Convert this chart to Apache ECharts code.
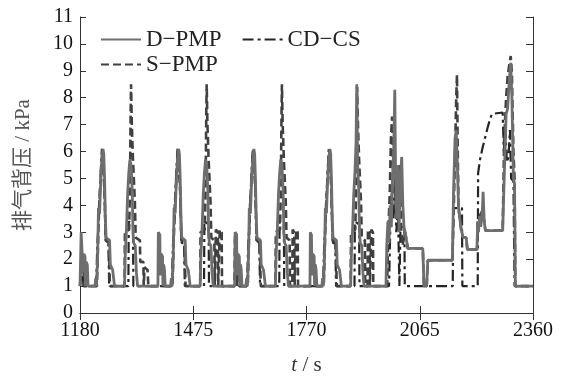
<!DOCTYPE html>
<html>
<head>
<meta charset="utf-8">
<script src="https://cdn.jsdelivr.net/npm/echarts@6/dist/echarts.min.js"></script>
<style>html,body{margin:0;padding:0;background:#fff}#c{width:562px;height:381px}</style>
</head>
<body>
<div id="c"></div>
<script>
const seriesNames = ['D−PMP', 'CD−CS', 'S−PMP'];
const xTicks = {min: 1180, max: 2360, step: 295};
const yTicks = {min: 0, max: 11, step: 1};

const dPMP = [
[1180,1.0],[1182,1.0],[1183,3.0],[1187,3.0],[1188,1.5],[1190,2.2],[1193,2.1],[1194,1.0],[1196,1.9],[1199,1.8],[1201,1.0],
[1219,1.0],[1221,1.3],[1223,1.0],[1226,2.1],[1228,3.9],[1231,3.7],[1234,4.9],[1237,5.7],[1240,6.1],[1242,5.9],[1244,5.0],[1246,3.6],[1248,2.8],[1257,2.7],[1259,1.8],[1265,1.6],[1270,1.0],
[1296,1.0],[1298,2.2],[1301,3.1],[1304,4.4],[1307,5.2],[1310,5.7],[1313,5.5],[1316,4.6],[1318,3.0],[1320,2.6],[1324,2.5],[1327,1.5],[1330,1.0],
[1383,1.0],[1384,3.0],[1388,2.9],[1389,1.4],[1391,2.2],[1395,2.1],[1396,1.0],[1398,1.8],[1400,1.6],[1402,1.0],
[1416,1.0],[1418,1.3],[1420,1.0],[1423,2.1],[1425,3.9],[1428,3.7],[1431,4.9],[1434,5.7],[1437,6.1],[1439,5.9],[1441,5.0],[1443,3.6],[1445,2.8],[1454,2.7],[1456,1.8],[1462,1.6],[1467,1.0],
[1493,1.0],[1495,2.2],[1498,3.1],[1501,4.4],[1504,5.2],[1507,5.7],[1510,5.5],[1513,4.6],[1515,3.0],[1517,2.6],[1521,2.5],[1524,1.5],[1527,1.0],
[1583,1.0],[1584,3.0],[1588,2.9],[1589,1.4],[1591,2.2],[1595,2.1],[1596,1.0],[1598,1.8],[1600,1.6],[1602,1.0],
[1612,1.0],[1614,1.3],[1616,1.0],[1619,2.1],[1621,3.9],[1624,3.7],[1627,4.9],[1630,5.7],[1633,6.1],[1635,5.9],[1637,5.0],[1639,3.6],[1641,2.8],[1650,2.7],[1652,1.8],[1658,1.6],[1663,1.0],
[1689,1.0],[1691,2.2],[1694,3.1],[1697,4.4],[1700,5.2],[1703,5.7],[1706,5.5],[1709,4.6],[1711,3.0],[1713,2.6],[1717,2.5],[1720,1.5],[1723,1.0],
[1779,1.0],[1780,3.0],[1783,2.9],[1784,1.4],[1786,2.2],[1790,2.1],[1791,1.0],[1793,1.8],[1795,1.6],[1797,1.0],
[1810,1.0],[1812,1.3],[1814,1.0],[1817,2.1],[1819,3.9],[1822,3.7],[1825,4.9],[1828,5.7],[1831,6.1],[1833,5.9],[1835,5.0],[1837,3.6],[1839,2.8],[1848,2.7],[1850,1.8],[1856,1.6],[1861,1.0],
[1885,1.0],[1887,2.2],[1890,3.1],[1893,4.4],[1896,5.2],[1899,6.3],[1901,8.5],[1903,5.6],[1906,4.6],[1908,3.0],[1910,2.6],[1914,2.5],[1917,1.5],[1920,1.0],
[1977,1.0],[1979,2.5],[1982,3.4],[1985,2.6],[1988,4.0],[1991,3.2],[1994,5.0],[1997,6.0],[2000,8.3],[2002,5.2],[2005,3.5],[2008,5.5],[2011,3.0],[2014,4.8],[2018,5.8],[2021,4.0],[2024,3.2],[2027,3.0],[2032,3.0],[2034,2.4],[2073,2.4],[2076,1.0],[2083,1.0],[2086,1.96],[2150,1.96],
[2153,4.5],[2157,6.5],[2160,6.8],[2163,5.5],[2166,3.9],[2170,3.9],[2173,3.1],[2178,2.8],[2186,2.8],[2189,2.36],[2214,2.36],[2216,3.4],[2218,3.0],[2221,3.6],[2224,3.2],[2228,3.8],[2230,4.5],[2233,3.4],[2236,3.06],[2281,3.06],[2285,5.0],[2290,7.4],[2294,7.6],[2298,8.6],[2302,9.3],[2305,8.0],[2309,5.0],[2312,4.8],[2314,1.0],[2360,1.0]
];

const sPMP = [
[1180,1.0],[1184,1.0],[1185,2.2],[1189,2.0],[1190,1.0],
[1224,1.0],[1227,2.6],[1230,4.0],[1234,5.0],[1238,6.0],[1241,6.0],[1244,4.5],[1247,2.7],[1255,2.6],[1258,1.0],
[1296,1.0],[1297,3.0],[1308,3.1],[1310,4.5],[1312,7.5],[1313,8.5],[1315,7.0],[1318,5.7],[1323,4.1],[1325,2.8],[1336,2.7],[1337,1.9],[1345,1.9],[1346,1.0],[1348,1.7],[1356,1.6],[1358,1.0],
[1421,1.0],[1424,2.6],[1427,4.0],[1431,5.0],[1435,6.0],[1438,6.0],[1441,4.5],[1444,2.7],[1452,2.6],[1455,1.0],
[1493,1.0],[1494,3.0],[1505,3.1],[1507,4.5],[1509,7.5],[1510,8.5],[1512,7.0],[1515,5.7],[1520,4.1],[1522,2.8],[1530,2.7],[1531,1.0],[1533,1.0],[1534,3.1],[1539,3.0],[1540,1.0],[1543,1.0],[1544,3.1],[1549,3.0],[1550,1.0],
[1582,1.0],[1584,3.0],[1588,2.9],[1589,1.0],[1591,2.0],[1594,1.9],[1595,1.0],
[1617,1.0],[1620,2.6],[1623,4.0],[1627,5.0],[1631,6.0],[1634,6.0],[1637,4.5],[1640,2.7],[1648,2.6],[1651,1.0],
[1689,1.0],[1690,3.0],[1701,3.1],[1703,4.5],[1705,7.5],[1706,8.5],[1708,7.0],[1711,5.7],[1716,4.1],[1718,2.8],[1726,2.7],[1727,1.0],[1733,1.0],[1734,3.1],[1738,3.0],[1739,1.0],[1742,1.0],[1743,3.1],[1747,3.0],[1748,1.0],
[1815,1.0],[1818,2.6],[1821,4.0],[1825,5.0],[1829,6.0],[1832,6.0],[1835,4.5],[1838,2.7],[1846,2.6],[1849,1.0],
[1885,1.0],[1886,3.0],[1897,3.1],[1899,4.5],[1901,7.5],[1902,8.4],[1904,7.0],[1907,5.7],[1912,4.1],[1914,2.8],[1922,2.7],[1923,1.0],[1929,1.0],[1930,3.1],[1934,3.0],[1935,1.0],[1938,1.0],[1939,3.1],[1943,3.0],[1944,1.0],
[1980,1.0],[1983,3.0],[1987,4.5],[1990,6.5],[1993,7.3],[1996,5.0],[1999,6.0],[2003,3.5],[2006,5.2],[2010,4.0],[2013,5.5],[2017,3.0],[2020,2.5],[2027,3.0],[2032,3.0],[2034,2.4],[2073,2.4],[2076,1.0],[2083,1.0],[2086,1.96],[2150,1.96],
[2153,3.5],[2157,6.0],[2160,8.0],[2162,8.85],[2164,6.0],[2166,3.9],[2170,3.9],[2173,3.1],[2178,2.8],[2186,2.8],[2189,2.36],[2214,2.36],[2216,3.4],[2221,3.6],[2228,3.8],[2233,3.4],[2236,3.06],[2281,3.06],[2285,6.5],[2290,8.0],[2294,8.8],[2298,9.2],[2302,9.55],[2305,8.9],[2309,6.0],[2312,5.0],[2314,1.0],[2360,1.0]
];

const cdCS = [
[1180,1.0],[1184,1.0],[1185,2.0],[1188,2.0],[1189,1.0],
[1222,1.0],[1225,2.5],[1229,3.5],[1233,5.0],[1237,6.1],[1240,6.1],[1243,5.0],[1246,3.0],[1248,2.6],[1254,2.6],[1256,1.0],
[1306,1.0],[1307,3.4],[1318,3.3],[1319,1.0],
[1419,1.0],[1422,2.5],[1426,3.5],[1430,5.0],[1434,6.1],[1437,6.1],[1440,5.0],[1443,3.0],[1445,2.6],[1451,2.6],[1453,1.0],
[1503,1.0],[1504,3.4],[1515,3.3],[1516,1.0],
[1615,1.0],[1618,2.5],[1622,3.5],[1626,5.0],[1630,6.1],[1633,6.1],[1636,5.0],[1639,3.0],[1641,2.6],[1647,2.6],[1649,1.0],
[1699,1.0],[1700,3.4],[1711,3.3],[1712,1.0],
[1813,1.0],[1816,2.5],[1820,3.5],[1824,5.0],[1828,6.1],[1831,6.1],[1834,5.0],[1837,3.0],[1839,2.6],[1845,2.6],[1847,1.0],
[1895,1.0],[1896,3.4],[1907,3.3],[1908,1.0],
[1985,1.0],[1988,3.0],[1992,4.5],[1996,3.5],[2000,5.0],[2004,3.0],[2008,4.0],[2012,1.0],[2014,1.0],[2015,3.2],[2025,3.2],[2026,1.0],
[2151,1.0],[2152,3.9],[2175,3.9],[2176,1.0],[2216,1.0],[2217,5.2],[2222,5.7],[2228,6.1],[2235,6.5],[2242,6.9],[2248,7.2],[2253,7.4],[2281,7.45],[2284,6.0],[2288,6.8],[2292,5.6],[2296,5.8],[2300,6.8],[2303,5.0],[2309,4.9],[2312,1.0],[2360,1.0]
];

const serif = "'Liberation Serif','Noto Sans CJK SC',serif";
const axisLineStyle = {color: '#333', width: 1};
const legendCommon = {itemWidth: 40, itemHeight: 14, itemGap: 20, selectedMode: false,
  itemStyle: {opacity: 0, borderWidth: 0},
  textStyle: {fontSize: 23, color: '#222', fontFamily: serif}};

const chart = echarts.init(document.getElementById('c'), null, {renderer: 'canvas'});
chart.setOption({
  animation: false,
  backgroundColor: '#fff',
  grid: {left: 80, right: 29, top: 17, bottom: 66},
  legend: [
    Object.assign({data: [seriesNames[0], seriesNames[1]], left: 95, top: 23}, legendCommon),
    Object.assign({data: [seriesNames[2]], left: 95, top: 48}, legendCommon)
  ],
  xAxis: [
    {type: 'value', min: xTicks.min, max: xTicks.max, interval: xTicks.step,
     axisLine: {show: true, lineStyle: axisLineStyle},
     axisTick: {show: true, inside: true, length: 7, lineStyle: axisLineStyle},
     axisLabel: {color: '#111', fontSize: 20, fontFamily: serif, margin: 8, formatter: v => String(v)},
     splitLine: {show: false},
     name: '{i|t} / s', nameLocation: 'middle', nameGap: 42,
     nameTextStyle: {fontSize: 21, color: '#333', fontFamily: serif,
       rich: {i: {fontStyle: 'italic', fontSize: 21, color: '#333', fontFamily: serif}}}},
    {type: 'value', position: 'top', min: xTicks.min, max: xTicks.max, interval: xTicks.step,
     axisLine: {show: true, lineStyle: axisLineStyle},
     axisTick: {show: true, inside: true, length: 7, lineStyle: axisLineStyle},
     axisLabel: {show: false}, splitLine: {show: false}}
  ],
  yAxis: [
    {type: 'value', min: yTicks.min, max: yTicks.max, interval: yTicks.step,
     axisLine: {show: true, lineStyle: axisLineStyle},
     axisTick: {show: true, inside: true, length: 6, lineStyle: axisLineStyle},
     axisLabel: {color: '#111', fontSize: 20, fontFamily: serif, margin: 7},
     splitLine: {show: false},
     name: '排气背压 / kPa', nameLocation: 'middle', nameGap: 46,
     nameTextStyle: {fontSize: 21, color: '#555', fontFamily: serif}},
    {type: 'value', position: 'right', min: yTicks.min, max: yTicks.max, interval: yTicks.step,
     axisLine: {show: true, lineStyle: axisLineStyle},
     axisTick: {show: true, inside: true, length: 7, lineStyle: axisLineStyle},
     axisLabel: {show: false}, splitLine: {show: false}}
  ],
  series: [
    {name: seriesNames[1], type: 'line', data: cdCS, showSymbol: false, symbol: 'none',
     lineStyle: {color: '#252525', width: 2.2, type: [11, 4, 3, 4]}, itemStyle: {color: '#252525'}},
    {name: seriesNames[2], type: 'line', data: sPMP, showSymbol: false, symbol: 'none',
     lineStyle: {color: '#404040', width: 2.6, type: [8, 4]}, itemStyle: {color: '#404040'}},
    {name: seriesNames[0], type: 'line', data: dPMP, showSymbol: false, symbol: 'none',
     lineStyle: {color: '#6e6e6e', width: 2.8}, itemStyle: {color: '#6e6e6e'}}
  ]
});
</script>
</body>
</html>
